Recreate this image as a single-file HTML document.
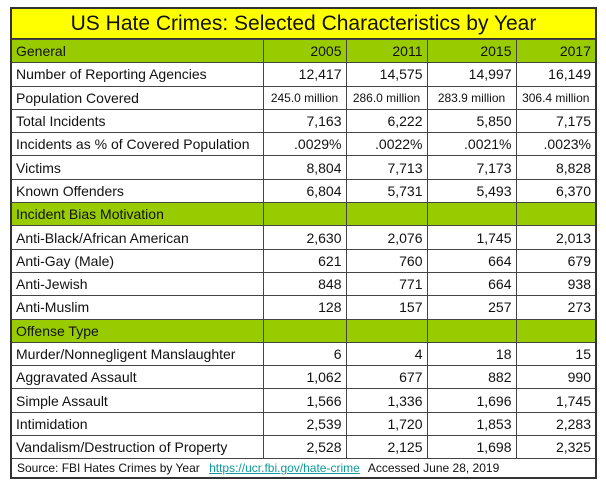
<!DOCTYPE html>
<html><head><meta charset="utf-8"><style>
html,body{margin:0;padding:0;background:#fff;width:606px;height:482px;overflow:hidden}
body{font-family:"Liberation Sans",Arial,sans-serif;color:#111}
#wrap{position:absolute;left:10px;top:7px;width:587px;border:2px solid #333;box-sizing:border-box;height:472px;overflow:hidden}
#title{height:29px;background:#ffff00;text-align:center;font-size:21px;line-height:29px;border-bottom:1px solid #333}
table{border-collapse:collapse;width:583px;table-layout:fixed}
td{height:22.3px;padding:0 4px;font-size:14px;line-height:16px;border:1px solid #444;white-space:nowrap;overflow:hidden}
tr.sec td{background:#99cc00}
td.n{text-align:right}
td.s{font-size:12px;padding:0 2px;text-align:center}
tr td:first-child{border-left:none}
tr td:last-child{border-right:none}
#foot{font-size:12px;padding:2px 5px 0;height:15px;line-height:14px}
#foot a{color:#119999;text-decoration:underline;margin:0 8px 0 6px}
</style></head><body>
<div id="wrap">
<div id="title">US Hate Crimes: Selected Characteristics by Year</div>
<table>
<colgroup><col style="width:251px"><col style="width:83px"><col style="width:81px"><col style="width:89px"><col style="width:79px"></colgroup>
<tr class="sec"><td>General</td><td class="n">2005</td><td class="n">2011</td><td class="n">2015</td><td class="n">2017</td></tr>
<tr><td>Number of Reporting Agencies</td><td class="n">12,417</td><td class="n">14,575</td><td class="n">14,997</td><td class="n">16,149</td></tr>
<tr><td>Population Covered</td><td class="s">245.0 million</td><td class="s">286.0 million</td><td class="s">283.9 million</td><td class="s">306.4 million</td></tr>
<tr><td>Total Incidents</td><td class="n">7,163</td><td class="n">6,222</td><td class="n">5,850</td><td class="n">7,175</td></tr>
<tr><td>Incidents as % of Covered Population</td><td class="n">.0029%</td><td class="n">.0022%</td><td class="n">.0021%</td><td class="n">.0023%</td></tr>
<tr><td>Victims</td><td class="n">8,804</td><td class="n">7,713</td><td class="n">7,173</td><td class="n">8,828</td></tr>
<tr><td>Known Offenders</td><td class="n">6,804</td><td class="n">5,731</td><td class="n">5,493</td><td class="n">6,370</td></tr>
<tr class="sec"><td>Incident Bias Motivation</td><td></td><td></td><td></td><td></td></tr>
<tr><td>Anti-Black/African American</td><td class="n">2,630</td><td class="n">2,076</td><td class="n">1,745</td><td class="n">2,013</td></tr>
<tr><td>Anti-Gay (Male)</td><td class="n">621</td><td class="n">760</td><td class="n">664</td><td class="n">679</td></tr>
<tr><td>Anti-Jewish</td><td class="n">848</td><td class="n">771</td><td class="n">664</td><td class="n">938</td></tr>
<tr><td>Anti-Muslim</td><td class="n">128</td><td class="n">157</td><td class="n">257</td><td class="n">273</td></tr>
<tr class="sec"><td>Offense Type</td><td></td><td></td><td></td><td></td></tr>
<tr><td>Murder/Nonnegligent Manslaughter</td><td class="n">6</td><td class="n">4</td><td class="n">18</td><td class="n">15</td></tr>
<tr><td>Aggravated Assault</td><td class="n">1,062</td><td class="n">677</td><td class="n">882</td><td class="n">990</td></tr>
<tr><td>Simple Assault</td><td class="n">1,566</td><td class="n">1,336</td><td class="n">1,696</td><td class="n">1,745</td></tr>
<tr><td>Intimidation</td><td class="n">2,539</td><td class="n">1,720</td><td class="n">1,853</td><td class="n">2,283</td></tr>
<tr><td>Vandalism/Destruction of Property</td><td class="n">2,528</td><td class="n">2,125</td><td class="n">1,698</td><td class="n">2,325</td></tr>
</table>
<div id="foot">Source: FBI Hates Crimes by Year <a>https://ucr.fbi.gov/hate-crime</a>Accessed June 28, 2019</div>
</div>
</body></html>
